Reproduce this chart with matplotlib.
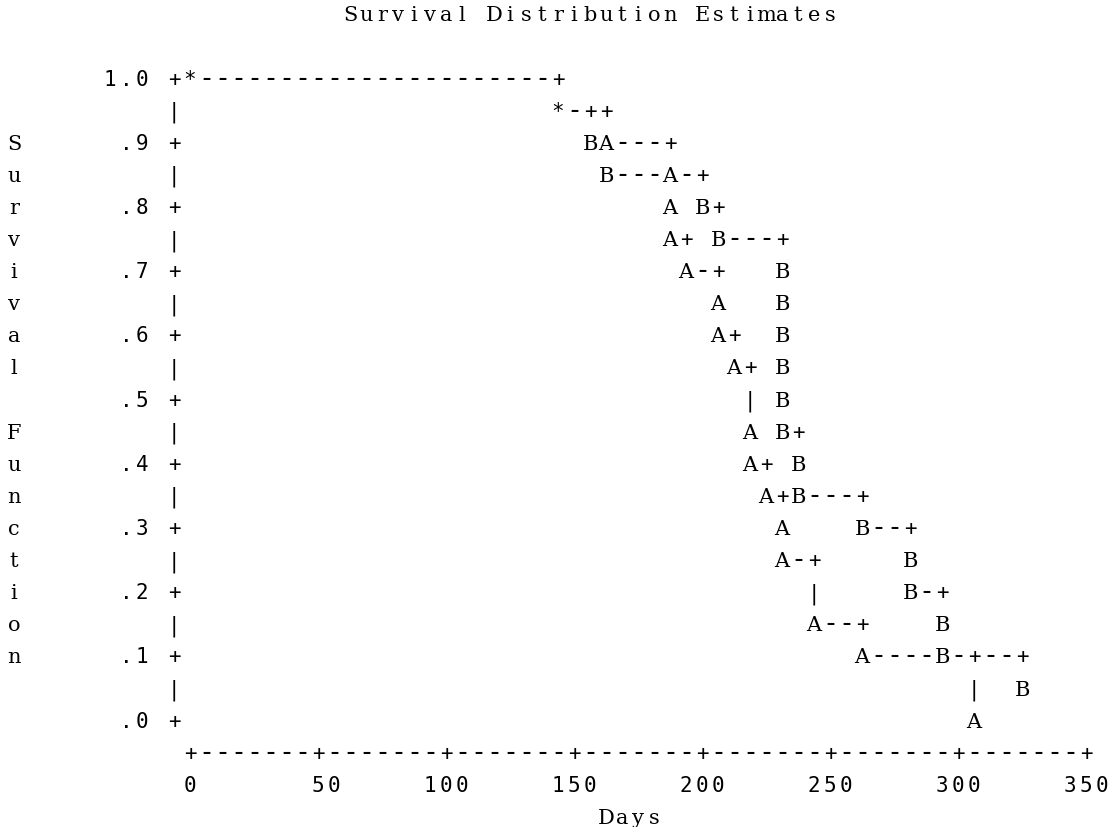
import matplotlib
matplotlib.use("Agg")
import matplotlib.pyplot as plt
from matplotlib.transforms import offset_copy

# line-printer style survival plot (product-limit estimates, two groups)
title = "Survival Distribution Estimates"
x_label = "Days"
y_label = "Survival Function"

# group A: days and estimated survival at each plotted observation
a_days = [0, 143, 164, 188, 188, 190, 192, 206, 209, 213, 216, 220, 227, 230, 234, 246, 265, 304]
a_surv = [1.0, .947, .895, .842, .789, .737, .684, .632, .579, .526, .474, .414, .355, .296, .237, .158, .079, 0.0]

# group B
b_days = [0, 142, 156, 163, 198, 205, 232, 232, 233, 233, 233, 233, 239, 240, 261, 280, 280, 296, 296, 323]
b_surv = [1.0, .952, .905, .857, .810, .759, .708, .658, .607, .557, .506, .455, .405, .354, .304, .253, .202, .152, .101, .051]

x_ticks = [0, 50, 100, 150, 200, 250, 300, 350]
y_ticks = [1.0, 0.9, 0.8, 0.7, 0.6, 0.5, 0.4, 0.3, 0.2, 0.1, 0.0]
y_tick_labels = ["1.0", ".9", ".8", ".7", ".6", ".5", ".4", ".3", ".2", ".1", ".0"]

# printer grid resolution
DAYS_PER_COL = 6.25
SURV_PER_ROW = 0.05


def to_cell(d, s):
    return int(round(d / DAYS_PER_COL)), int(round((1.0 - s) / SURV_PER_ROW))


grid = {}
RANK = {"-": 1, "|": 1, "+": 2}


def mark(c, r, ch):
    old = grid.get((c, r))
    if old is None:
        grid[(c, r)] = ch
        return
    if ch.isalpha() and old.isalpha() and ch != old:
        grid[(c, r)] = "*"
        return
    rank_new = 3 if (ch.isalpha() or ch == "*") else RANK[ch]
    rank_old = 3 if (old.isalpha() or old == "*") else RANK[old]
    if rank_new > rank_old:
        grid[(c, r)] = ch


for sym, days, surv in [("A", a_days, a_surv), ("B", b_days, b_surv)]:
    cells = [to_cell(d, s) for d, s in zip(days, surv)]
    for i, (c0, r0) in enumerate(cells):
        if i + 1 < len(cells):
            c1, r1 = cells[i + 1]
            if c1 > c0:
                for c in range(c0 + 1, c1):
                    mark(c, r0, "-")
                mark(c1, r0, "+")
            for r in range(r0 + 1, r1):
                mark(c1, r, "|")
        mark(c0, r0, sym)

fig = plt.figure(figsize=(11.15, 8.28), dpi=100)
ax = fig.add_axes([0, 0, 1, 1])
# map pixel columns/rows of the page onto days / survival
px_per_day = 16 / DAYS_PER_COL
ax.set_xlim(-190 / px_per_day, (1115 - 190) / px_per_day)
ax.set_ylim(1 - 750 / 642, 1 + 78 / 642)
ax.axis("off")

SIZE = 15
tr_sym = offset_copy(ax.transData, fig=fig, x=0, y=-7.6, units="dots")


def put(c, r, ch):
    if ch == " ":
        return
    x = c * DAYS_PER_COL
    y = 1.0 - r * SURV_PER_ROW
    fam, size = "DejaVu Sans Mono", SIZE
    if ch.isalpha():
        fam = "DejaVu Serif"
    elif ch == "-":
        size = 19
    ax.text(x, y, ch, family=fam, fontsize=size, ha="center",
            va="baseline", transform=tr_sym, color="black")


def put_str(c, r, s):
    for i, ch in enumerate(s):
        put(c + i, r, ch)


# plot body
for (c, r), ch in grid.items():
    put(c, r, ch)

# vertical axis
n_rows = int(round(1.0 / SURV_PER_ROW))
tick_rows = [to_cell(0, v)[1] for v in y_ticks]
for r in range(n_rows + 1):
    if r not in tick_rows:
        put(-1, r, "|")
for r, lab in zip(tick_rows, y_tick_labels):
    put(-1, r, "+")
    put_str(-3 - len(lab) + 1, r, lab)

# horizontal axis
last_col = to_cell(x_ticks[-1], 0)[0]
axis_row = n_rows + 1
tick_cols = [to_cell(v, 1.0)[0] for v in x_ticks]
for c in range(0, last_col + 1):
    if c not in tick_cols:
        put(c, axis_row, "-")
for c, v in zip(tick_cols, x_ticks):
    put(c, axis_row, "+")
    lab = str(v)
    put_str(c - (len(lab) - 1) // 2, axis_row + 1, lab)

# axis labels and title
put_str((last_col + 1 - len(x_label)) // 2, axis_row + 2, x_label)
start = (n_rows + 1 - len(y_label)) // 2
for i, ch in enumerate(y_label):
    put(-11, start + i, ch)
put_str(10, -2, title)

fig.savefig("out.png", dpi=100, facecolor="white")
